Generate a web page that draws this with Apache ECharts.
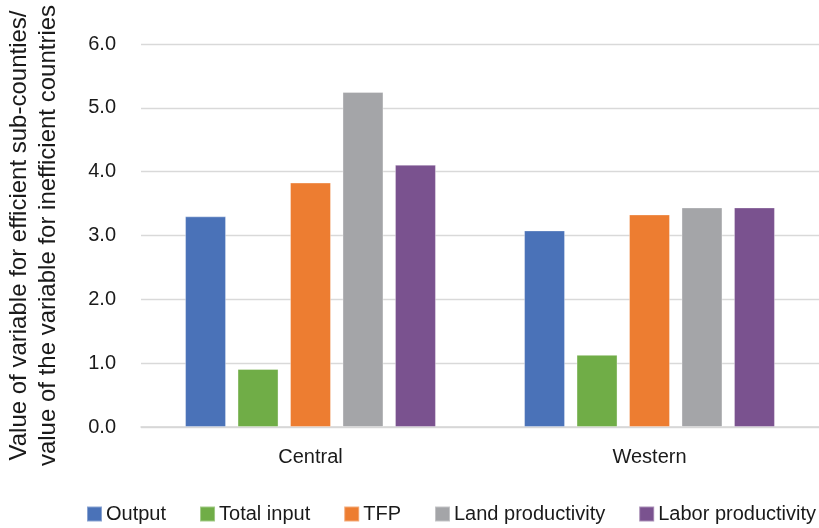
<!DOCTYPE html>
<html>
<head>
<meta charset="utf-8">
<script src="https://cdn.jsdelivr.net/npm/echarts@6/dist/echarts.min.js"></script>
<style>
  html, body { margin: 0; padding: 0; background: #fff; }
  #chart { width: 819px; height: 528px; }
</style>
</head>
<body>
<div id="chart"></div>
<script>
// Regions on the category axis
const regions = ['Central', 'Western'];

// Ratio of efficient to inefficient sub-counties, per variable
const output = [3.30, 3.08];
const totalInput = [0.91, 1.13];
const tfp = [3.83, 3.33];
const landProductivity = [5.25, 3.44];
const laborProductivity = [4.11, 3.44];

const seriesNames = ['Output', 'Total input', 'TFP', 'Land productivity', 'Labor productivity'];
const seriesValues = [output, totalInput, tfp, landProductivity, laborProductivity];
const seriesColors = ['#4A72B8', '#70AD47', '#ED7D31', '#A4A5A8', '#7A528F'];

const yTicks = { min: 0, max: 6, interval: 1 };

const FONT = '"Liberation Sans", Arial, Helvetica, sans-serif';
const chart = echarts.init(document.getElementById('chart'), null, { renderer: 'canvas' });

chart.setOption({
  animation: false,
  textStyle: { fontFamily: FONT, color: '#1a1a1a' },
  color: seriesColors,
  grid: { left: 141, right: 0, top: 44, bottom: 101, containLabel: false, outerBoundsMode: 'none' },
  legend: {
    data: seriesNames,
    left: 86,
    top: 504,
    width: 760,
    padding: 0,
    itemWidth: 15,
    itemHeight: 15,
    itemGap: 33,
    icon: 'rect',
    textStyle: { fontFamily: FONT, fontSize: 20, color: '#1a1a1a', padding: [0, 0, 0, -1] }
  },
  xAxis: {
    type: 'category',
    data: regions,
    axisLine: { show: true, lineStyle: { color: '#d6d6d6', width: 1.5 } },
    axisTick: { show: false },
    axisLabel: { fontFamily: FONT, fontSize: 20, color: '#1a1a1a', margin: 20 }
  },
  yAxis: {
    type: 'value',
    min: yTicks.min,
    max: yTicks.max,
    interval: yTicks.interval,
    name: 'Value of variable for efficient sub-counties/\nvalue of the variable for inefficient countries',
    nameLocation: 'middle',
    nameRotate: 90,
    nameGap: 78,
    nameTextStyle: { fontFamily: FONT, fontSize: 24, lineHeight: 29, color: '#1a1a1a', align: 'center' },
    axisLine: { show: false },
    axisTick: { show: false },
    splitLine: { lineStyle: { color: '#d9d9d9', width: 1.3 } },
    axisLabel: {
      fontFamily: FONT, fontSize: 20, color: '#1a1a1a', margin: 25,
      formatter: v => v.toFixed(1)
    }
  },
  series: seriesNames.map((name, i) => ({
    name: name,
    type: 'bar',
    data: seriesValues[i],
    barWidth: 41,
    barGap: '28%',
    itemStyle: {
      color: seriesColors[i],
      borderColor: 'rgba(255,255,255,0.35)',
      borderWidth: 1
    }
  }))
});
</script>
</body>
</html>
